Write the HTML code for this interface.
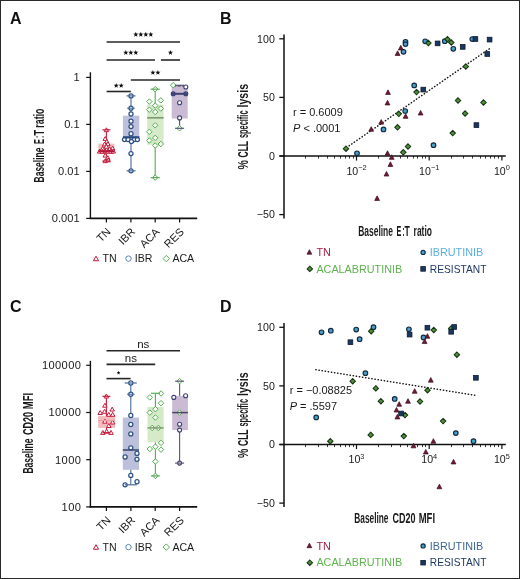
<!DOCTYPE html>
<html><head><meta charset="utf-8"><style>
html,body{margin:0;padding:0;background:#fff;}
svg{display:block;font-family:"Liberation Sans", sans-serif;will-change:transform;}
</style></head><body>
<svg width="520" height="579" viewBox="0 0 520 579">
<rect x="0" y="0" width="520" height="579" fill="#fff"/>
<text x="10" y="24" font-size="16" font-weight="bold" fill="#111">A</text><text x="220" y="24" font-size="16" font-weight="bold" fill="#111">B</text><text x="10" y="312.3" font-size="16" font-weight="bold" fill="#111">C</text><text x="220" y="312.3" font-size="16" font-weight="bold" fill="#111">D</text><g transform="translate(0,0)"><line x1="90.4" y1="72.3" x2="90.4" y2="219" stroke="#111" stroke-width="1.4"/><line x1="89.7" y1="218.4" x2="197.2" y2="218.4" stroke="#111" stroke-width="1.6"/><line x1="86.2" y1="77.4" x2="90.4" y2="77.4" stroke="#111" stroke-width="1.2"/><text x="79.6" y="81.30" font-size="11.1" text-anchor="end" fill="#1a1a1a" >1</text><line x1="86.2" y1="124.4" x2="90.4" y2="124.4" stroke="#111" stroke-width="1.2"/><text x="79.6" y="128.30" font-size="11.1" text-anchor="end" fill="#1a1a1a" >0.1</text><line x1="86.2" y1="171.4" x2="90.4" y2="171.4" stroke="#111" stroke-width="1.2"/><text x="79.6" y="175.30" font-size="11.1" text-anchor="end" fill="#1a1a1a" >0.01</text><line x1="86.2" y1="218.4" x2="90.4" y2="218.4" stroke="#111" stroke-width="1.2"/><text x="79.6" y="222.30" font-size="11.1" text-anchor="end" fill="#1a1a1a" >0.001</text><line x1="106.4" y1="218.4" x2="106.4" y2="222.4" stroke="#111" stroke-width="1.2"/><text x="0" y="0" font-size="11" text-anchor="end" fill="#1a1a1a" transform="translate(111.4,232.5) rotate(-45)">TN</text><line x1="130.9" y1="218.4" x2="130.9" y2="222.4" stroke="#111" stroke-width="1.2"/><text x="0" y="0" font-size="11" text-anchor="end" fill="#1a1a1a" transform="translate(135.9,232.5) rotate(-45)">IBR</text><line x1="155.2" y1="218.4" x2="155.2" y2="222.4" stroke="#111" stroke-width="1.2"/><text x="0" y="0" font-size="11" text-anchor="end" fill="#1a1a1a" transform="translate(160.2,232.5) rotate(-45)">ACA</text><line x1="179.6" y1="218.4" x2="179.6" y2="222.4" stroke="#111" stroke-width="1.2"/><text x="0" y="0" font-size="11" text-anchor="end" fill="#1a1a1a" transform="translate(184.6,232.5) rotate(-45)">RES</text><line x1="106.6" y1="42.0" x2="180" y2="42.0" stroke="#262626" stroke-width="1.6"/><polygon points="135.80,31.80 136.47,33.58 138.37,33.67 136.88,34.85 137.39,36.68 135.80,35.63 134.21,36.68 134.72,34.85 133.23,33.67 135.13,33.58" fill="#111"/><polygon points="140.80,31.80 141.47,33.58 143.37,33.67 141.88,34.85 142.39,36.68 140.80,35.63 139.21,36.68 139.72,34.85 138.23,33.67 140.13,33.58" fill="#111"/><polygon points="145.80,31.80 146.47,33.58 148.37,33.67 146.88,34.85 147.39,36.68 145.80,35.63 144.21,36.68 144.72,34.85 143.23,33.67 145.13,33.58" fill="#111"/><polygon points="150.80,31.80 151.47,33.58 153.37,33.67 151.88,34.85 152.39,36.68 150.80,35.63 149.21,36.68 149.72,34.85 148.23,33.67 150.13,33.58" fill="#111"/><line x1="106.6" y1="60.0" x2="155" y2="60.0" stroke="#262626" stroke-width="1.6"/><polygon points="125.80,50.00 126.47,51.78 128.37,51.87 126.88,53.05 127.39,54.88 125.80,53.83 124.21,54.88 124.72,53.05 123.23,51.87 125.13,51.78" fill="#111"/><polygon points="130.80,50.00 131.47,51.78 133.37,51.87 131.88,53.05 132.39,54.88 130.80,53.83 129.21,54.88 129.72,53.05 128.23,51.87 130.13,51.78" fill="#111"/><polygon points="135.80,50.00 136.47,51.78 138.37,51.87 136.88,53.05 137.39,54.88 135.80,53.83 134.21,54.88 134.72,53.05 133.23,51.87 135.13,51.78" fill="#111"/><line x1="160.9" y1="60.0" x2="180" y2="60.0" stroke="#262626" stroke-width="1.6"/><polygon points="170.45,50.00 171.12,51.78 173.02,51.87 171.53,53.05 172.04,54.88 170.45,53.83 168.86,54.88 169.37,53.05 167.88,51.87 169.78,51.78" fill="#111"/><line x1="130.8" y1="80.0" x2="180" y2="80.0" stroke="#262626" stroke-width="1.6"/><polygon points="152.90,69.90 153.57,71.68 155.47,71.77 153.98,72.95 154.49,74.78 152.90,73.73 151.31,74.78 151.82,72.95 150.33,71.77 152.23,71.68" fill="#111"/><polygon points="157.90,69.90 158.57,71.68 160.47,71.77 158.98,72.95 159.49,74.78 157.90,73.73 156.31,74.78 156.82,72.95 155.33,71.77 157.23,71.68" fill="#111"/><line x1="106.6" y1="91.5" x2="130.8" y2="91.5" stroke="#262626" stroke-width="1.6"/><polygon points="116.20,82.90 116.87,84.68 118.77,84.77 117.28,85.95 117.79,87.78 116.20,86.73 114.61,87.78 115.12,85.95 113.63,84.77 115.53,84.68" fill="#111"/><polygon points="121.20,82.90 121.87,84.68 123.77,84.77 122.28,85.95 122.79,87.78 121.20,86.73 119.61,87.78 120.12,85.95 118.63,84.77 120.53,84.68" fill="#111"/><rect x="98.4" y="143.7" width="16.0" height="10.200000000000017" fill="#f2bcbc"/><line x1="106.4" y1="129.8" x2="106.4" y2="143.7" stroke="#c41a3c" stroke-width="1.1"/><line x1="106.4" y1="153.9" x2="106.4" y2="161.0" stroke="#c41a3c" stroke-width="1.1"/><polygon points="106.40,127.80 104.20,131.65 108.60,131.65" fill="#fff" stroke="#c41a3c" stroke-width="1.0"/><polygon points="105.20,136.60 103.00,140.45 107.40,140.45" fill="#fff" stroke="#c41a3c" stroke-width="1.0"/><polygon points="106.80,139.40 104.60,143.25 109.00,143.25" fill="#fff" stroke="#c41a3c" stroke-width="1.0"/><polygon points="104.60,142.00 102.40,145.85 106.80,145.85" fill="#fff" stroke="#c41a3c" stroke-width="1.0"/><polygon points="108.00,141.80 105.80,145.65 110.20,145.65" fill="#fff" stroke="#c41a3c" stroke-width="1.0"/><polygon points="106.40,144.40 104.20,148.25 108.60,148.25" fill="#fff" stroke="#c41a3c" stroke-width="1.0"/><polygon points="102.60,146.40 100.40,150.25 104.80,150.25" fill="#fff" stroke="#c41a3c" stroke-width="1.0"/><polygon points="112.60,146.10 110.40,149.95 114.80,149.95" fill="#fff" stroke="#c41a3c" stroke-width="1.0"/><polygon points="109.60,146.80 107.40,150.65 111.80,150.65" fill="#fff" stroke="#c41a3c" stroke-width="1.0"/><polygon points="99.60,149.20 97.40,153.05 101.80,153.05" fill="#fff" stroke="#c41a3c" stroke-width="1.0"/><polygon points="102.40,149.40 100.20,153.25 104.60,153.25" fill="#fff" stroke="#c41a3c" stroke-width="1.0"/><polygon points="105.20,149.00 103.00,152.85 107.40,152.85" fill="#fff" stroke="#c41a3c" stroke-width="1.0"/><polygon points="108.00,149.20 105.80,153.05 110.20,153.05" fill="#fff" stroke="#c41a3c" stroke-width="1.0"/><polygon points="110.80,149.40 108.60,153.25 113.00,153.25" fill="#fff" stroke="#c41a3c" stroke-width="1.0"/><polygon points="113.30,149.20 111.10,153.05 115.50,153.05" fill="#fff" stroke="#c41a3c" stroke-width="1.0"/><polygon points="105.20,153.20 103.00,157.05 107.40,157.05" fill="#fff" stroke="#c41a3c" stroke-width="1.0"/><polygon points="107.80,155.70 105.60,159.55 110.00,159.55" fill="#fff" stroke="#c41a3c" stroke-width="1.0"/><polygon points="105.20,158.80 103.00,162.65 107.40,162.65" fill="#fff" stroke="#c41a3c" stroke-width="1.0"/><polygon points="108.20,158.00 106.00,161.85 110.40,161.85" fill="#fff" stroke="#c41a3c" stroke-width="1.0"/><line x1="102.4" y1="129.8" x2="110.4" y2="129.8" stroke="#c41a3c" stroke-width="1.2"/><line x1="102.4" y1="161.0" x2="110.4" y2="161.0" stroke="#c41a3c" stroke-width="1.2"/><line x1="98.4" y1="151.2" x2="114.4" y2="151.2" stroke="#b3193a" stroke-width="2"/><rect x="122.9" y="115.7" width="16.400000000000006" height="22.10000000000001" fill="#bcc0da"/><line x1="131.0" y1="95.9" x2="131.0" y2="115.7" stroke="#4a6c98" stroke-width="1.1"/><line x1="131.0" y1="137.8" x2="131.0" y2="170.8" stroke="#4a6c98" stroke-width="1.1"/><circle cx="131.00" cy="95.90" r="2.05" fill="#fff" stroke="#2f5286" stroke-width="1.25"/><circle cx="131.00" cy="108.20" r="2.05" fill="#fff" stroke="#2f5286" stroke-width="1.25"/><circle cx="131.00" cy="114.00" r="2.05" fill="#fff" stroke="#2f5286" stroke-width="1.25"/><circle cx="131.00" cy="121.20" r="2.05" fill="#fff" stroke="#2f5286" stroke-width="1.25"/><circle cx="131.00" cy="126.60" r="2.05" fill="#fff" stroke="#2f5286" stroke-width="1.25"/><circle cx="131.00" cy="133.70" r="2.05" fill="#fff" stroke="#2f5286" stroke-width="1.25"/><circle cx="124.50" cy="139.60" r="2.05" fill="#fff" stroke="#2f5286" stroke-width="1.25"/><circle cx="128.10" cy="139.60" r="2.05" fill="#fff" stroke="#2f5286" stroke-width="1.25"/><circle cx="134.40" cy="139.60" r="2.05" fill="#fff" stroke="#2f5286" stroke-width="1.25"/><circle cx="137.40" cy="139.60" r="2.05" fill="#fff" stroke="#2f5286" stroke-width="1.25"/><circle cx="131.40" cy="141.60" r="2.05" fill="#fff" stroke="#2f5286" stroke-width="1.25"/><circle cx="131.00" cy="153.60" r="2.05" fill="#fff" stroke="#2f5286" stroke-width="1.25"/><circle cx="131.00" cy="170.80" r="2.05" fill="#fff" stroke="#2f5286" stroke-width="1.25"/><line x1="126.5" y1="95.9" x2="135.5" y2="95.9" stroke="#4a6c98" stroke-width="1.2"/><line x1="126.5" y1="170.8" x2="135.5" y2="170.8" stroke="#4a6c98" stroke-width="1.2"/><line x1="122.9" y1="137.2" x2="139.3" y2="137.2" stroke="#274a82" stroke-width="2"/><line x1="127.2" y1="108.2" x2="134.8" y2="108.2" stroke="#4a6c98" stroke-width="1.1"/><rect x="147.2" y="104.6" width="16.400000000000006" height="40.20000000000002" fill="#d5eac8"/><line x1="155.2" y1="89.2" x2="155.2" y2="104.6" stroke="#55ad52" stroke-width="1.1"/><line x1="155.2" y1="144.8" x2="155.2" y2="177.6" stroke="#55ad52" stroke-width="1.1"/><polygon points="155.20,86.45 157.95,89.20 155.20,91.95 152.45,89.20" fill="#fff" stroke="#55ad52" stroke-width="1.0"/><polygon points="149.30,98.85 152.05,101.60 149.30,104.35 146.55,101.60" fill="#fff" stroke="#55ad52" stroke-width="1.0"/><polygon points="160.80,97.65 163.55,100.40 160.80,103.15 158.05,100.40" fill="#fff" stroke="#55ad52" stroke-width="1.0"/><polygon points="155.20,102.85 157.95,105.60 155.20,108.35 152.45,105.60" fill="#fff" stroke="#55ad52" stroke-width="1.0"/><polygon points="149.30,106.95 152.05,109.70 149.30,112.45 146.55,109.70" fill="#fff" stroke="#55ad52" stroke-width="1.0"/><polygon points="160.80,105.75 163.55,108.50 160.80,111.25 158.05,108.50" fill="#fff" stroke="#55ad52" stroke-width="1.0"/><polygon points="155.20,109.25 157.95,112.00 155.20,114.75 152.45,112.00" fill="#fff" stroke="#55ad52" stroke-width="1.0"/><polygon points="155.20,122.55 157.95,125.30 155.20,128.05 152.45,125.30" fill="#fff" stroke="#55ad52" stroke-width="1.0"/><polygon points="149.30,129.05 152.05,131.80 149.30,134.55 146.55,131.80" fill="#fff" stroke="#55ad52" stroke-width="1.0"/><polygon points="155.20,135.15 157.95,137.90 155.20,140.65 152.45,137.90" fill="#fff" stroke="#55ad52" stroke-width="1.0"/><polygon points="149.30,137.75 152.05,140.50 149.30,143.25 146.55,140.50" fill="#fff" stroke="#55ad52" stroke-width="1.0"/><polygon points="160.80,141.25 163.55,144.00 160.80,146.75 158.05,144.00" fill="#fff" stroke="#55ad52" stroke-width="1.0"/><polygon points="155.20,142.75 157.95,145.50 155.20,148.25 152.45,145.50" fill="#fff" stroke="#55ad52" stroke-width="1.0"/><polygon points="155.20,174.85 157.95,177.60 155.20,180.35 152.45,177.60" fill="#fff" stroke="#55ad52" stroke-width="1.0"/><line x1="150.7" y1="89.2" x2="159.7" y2="89.2" stroke="#55ad52" stroke-width="1.2"/><line x1="150.7" y1="177.6" x2="159.7" y2="177.6" stroke="#55ad52" stroke-width="1.2"/><line x1="147.2" y1="117.8" x2="163.6" y2="117.8" stroke="#7f9c70" stroke-width="1.7"/><rect x="171.7" y="85.3" width="16.0" height="33.2" fill="#cbbad3"/><line x1="179.6" y1="85.3" x2="179.6" y2="85.3" stroke="#5a5470" stroke-width="1.1"/><line x1="179.6" y1="118.5" x2="179.6" y2="128.3" stroke="#5a5470" stroke-width="1.1"/><line x1="173.2" y1="85.8" x2="185.8" y2="85.8" stroke="#3a3560" stroke-width="1.3" stroke-dasharray="3 1.5"/><polygon points="173.20,82.45 175.95,85.20 173.20,87.95 170.45,85.20" fill="#fff" stroke="#55ad52" stroke-width="1.0"/><circle cx="185.80" cy="87.00" r="2.0" fill="#fff" stroke="#3b4176" stroke-width="1.1"/><circle cx="179.60" cy="102.70" r="2.0" fill="#fff" stroke="#3b4176" stroke-width="1.1"/><circle cx="179.60" cy="117.90" r="2.0" fill="#fff" stroke="#3b4176" stroke-width="1.1"/><circle cx="173.20" cy="93.80" r="2.0" fill="#5a5f90" stroke="#3b4176" stroke-width="1.1"/><circle cx="185.80" cy="93.80" r="2.0" fill="#5a5f90" stroke="#3b4176" stroke-width="1.1"/><polygon points="179.60,125.55 182.35,128.30 179.60,131.05 176.85,128.30" fill="#fff" stroke="#55ad52" stroke-width="1.0"/><line x1="175.1" y1="85.3" x2="184.1" y2="85.3" stroke="#5a5470" stroke-width="1.2"/><line x1="175.1" y1="128.3" x2="184.1" y2="128.3" stroke="#5a5470" stroke-width="1.2"/><line x1="171.7" y1="93.8" x2="187.7" y2="93.8" stroke="#3b4176" stroke-width="2"/><polygon points="96.00,256.20 93.40,260.75 98.60,260.75" fill="#fff" stroke="#c41a3c" stroke-width="1.0"/><text x="102.6" y="262" font-size="10.6" text-anchor="start" fill="#1a1a1a" >TN</text><circle cx="128.50" cy="258.60" r="2.7" fill="#fff" stroke="#5a86c0" stroke-width="1.0"/><text x="134.8" y="262" font-size="10.6" text-anchor="start" fill="#1a1a1a" >IBR</text><polygon points="166.30,255.40 169.50,258.60 166.30,261.80 163.10,258.60" fill="#fff" stroke="#55ad52" stroke-width="1.0"/><text x="172.4" y="262" font-size="10.6" text-anchor="start" fill="#1a1a1a" >ACA</text></g><g transform="translate(44,0) rotate(-90)"><text x="-182.40" y="0" font-size="14.0" fill="#1a1a1a" stroke="#1a1a1a" stroke-width="0" font-weight="bold" textLength="34.80" lengthAdjust="spacingAndGlyphs">Baseline</text><text x="-144.00" y="0" font-size="14.0" fill="#1a1a1a" stroke="#1a1a1a" stroke-width="0" font-weight="bold" textLength="5.00" lengthAdjust="spacingAndGlyphs">E</text><text x="-137.90" y="0" font-size="14.0" fill="#1a1a1a" stroke="#1a1a1a" stroke-width="0" font-weight="bold" textLength="2.20" lengthAdjust="spacingAndGlyphs">:</text><text x="-135.60" y="0" font-size="14.0" fill="#1a1a1a" stroke="#1a1a1a" stroke-width="0" font-weight="bold" textLength="5.70" lengthAdjust="spacingAndGlyphs">T</text><text x="-127.70" y="0" font-size="14.0" fill="#1a1a1a" stroke="#1a1a1a" stroke-width="0" font-weight="bold" textLength="19.20" lengthAdjust="spacingAndGlyphs">ratio</text></g><g transform="translate(0,288.5)"><line x1="90.4" y1="72.3" x2="90.4" y2="219" stroke="#111" stroke-width="1.4"/><line x1="89.7" y1="218.4" x2="197.2" y2="218.4" stroke="#111" stroke-width="1.6"/><line x1="86.2" y1="76.8" x2="90.4" y2="76.8" stroke="#111" stroke-width="1.2"/><text x="81.3" y="80.70" font-size="11.1" text-anchor="end" fill="#1a1a1a" letter-spacing="0.4">100000</text><line x1="86.2" y1="124.0" x2="90.4" y2="124.0" stroke="#111" stroke-width="1.2"/><text x="81.3" y="127.90" font-size="11.1" text-anchor="end" fill="#1a1a1a" letter-spacing="0.4">10000</text><line x1="86.2" y1="171.2" x2="90.4" y2="171.2" stroke="#111" stroke-width="1.2"/><text x="81.3" y="175.10" font-size="11.1" text-anchor="end" fill="#1a1a1a" letter-spacing="0.4">1000</text><line x1="86.2" y1="218.40000000000003" x2="90.4" y2="218.40000000000003" stroke="#111" stroke-width="1.2"/><text x="81.3" y="222.30" font-size="11.1" text-anchor="end" fill="#1a1a1a" letter-spacing="0.4">100</text><line x1="106.4" y1="218.4" x2="106.4" y2="222.4" stroke="#111" stroke-width="1.2"/><text x="0" y="0" font-size="11" text-anchor="end" fill="#1a1a1a" transform="translate(111.4,232.5) rotate(-45)">TN</text><line x1="130.9" y1="218.4" x2="130.9" y2="222.4" stroke="#111" stroke-width="1.2"/><text x="0" y="0" font-size="11" text-anchor="end" fill="#1a1a1a" transform="translate(135.9,232.5) rotate(-45)">IBR</text><line x1="155.2" y1="218.4" x2="155.2" y2="222.4" stroke="#111" stroke-width="1.2"/><text x="0" y="0" font-size="11" text-anchor="end" fill="#1a1a1a" transform="translate(160.2,232.5) rotate(-45)">ACA</text><line x1="179.6" y1="218.4" x2="179.6" y2="222.4" stroke="#111" stroke-width="1.2"/><text x="0" y="0" font-size="11" text-anchor="end" fill="#1a1a1a" transform="translate(184.6,232.5) rotate(-45)">RES</text><line x1="106.5" y1="62.19999999999999" x2="180" y2="62.19999999999999" stroke="#262626" stroke-width="1.6"/><text x="143.25" y="59.89999999999998" font-size="11.5" text-anchor="middle" fill="#1a1a1a" >ns</text><line x1="106.5" y1="75.89999999999998" x2="155.2" y2="75.89999999999998" stroke="#262626" stroke-width="1.6"/><text x="130.85" y="73.60000000000002" font-size="11.5" text-anchor="middle" fill="#1a1a1a" >ns</text><line x1="106.5" y1="90.10000000000002" x2="130.6" y2="90.10000000000002" stroke="#262626" stroke-width="1.6"/><polygon points="118.55,82.30 119.04,83.62 120.45,83.68 119.35,84.56 119.73,85.92 118.55,85.14 117.37,85.92 117.75,84.56 116.65,83.68 118.06,83.62" fill="#111"/><rect x="98.2" y="127.39999999999998" width="17.0" height="12.0" fill="#f2bcbc"/><line x1="106.4" y1="107.80000000000001" x2="106.4" y2="127.39999999999998" stroke="#c41a3c" stroke-width="1.1"/><line x1="106.4" y1="139.39999999999998" x2="106.4" y2="144.2" stroke="#c41a3c" stroke-width="1.1"/><polygon points="106.30,105.55 104.05,109.49 108.55,109.49" fill="#fff" stroke="#c41a3c" stroke-width="1.0"/><polygon points="104.90,114.75 102.65,118.69 107.15,118.69" fill="#fff" stroke="#c41a3c" stroke-width="1.0"/><polygon points="112.20,118.65 109.95,122.59 114.45,122.59" fill="#fff" stroke="#c41a3c" stroke-width="1.0"/><polygon points="100.20,122.05 97.95,125.99 102.45,125.99" fill="#fff" stroke="#c41a3c" stroke-width="1.0"/><polygon points="104.50,120.85 102.25,124.79 106.75,124.79" fill="#fff" stroke="#c41a3c" stroke-width="1.0"/><polygon points="108.80,123.85 106.55,127.79 111.05,127.79" fill="#fff" stroke="#c41a3c" stroke-width="1.0"/><polygon points="112.70,123.85 110.45,127.79 114.95,127.79" fill="#fff" stroke="#c41a3c" stroke-width="1.0"/><polygon points="104.90,130.75 102.65,134.69 107.15,134.69" fill="#fff" stroke="#c41a3c" stroke-width="1.0"/><polygon points="112.70,131.55 110.45,135.49 114.95,135.49" fill="#fff" stroke="#c41a3c" stroke-width="1.0"/><polygon points="108.80,135.05 106.55,138.99 111.05,138.99" fill="#fff" stroke="#c41a3c" stroke-width="1.0"/><polygon points="102.80,141.95 100.55,145.89 105.05,145.89" fill="#fff" stroke="#c41a3c" stroke-width="1.0"/><polygon points="106.60,140.65 104.35,144.59 108.85,144.59" fill="#fff" stroke="#c41a3c" stroke-width="1.0"/><polygon points="111.00,141.95 108.75,145.89 113.25,145.89" fill="#fff" stroke="#c41a3c" stroke-width="1.0"/><line x1="102.4" y1="107.80000000000001" x2="110.4" y2="107.80000000000001" stroke="#c41a3c" stroke-width="1.2"/><line x1="102.4" y1="144.2" x2="110.4" y2="144.2" stroke="#c41a3c" stroke-width="1.2"/><line x1="98.2" y1="132.0" x2="115.2" y2="132.0" stroke="#e9a0a8" stroke-width="1.0"/><rect x="122.8" y="129.0" width="16.200000000000003" height="52.30000000000001" fill="#bcc0da"/><line x1="130.8" y1="94.5" x2="130.8" y2="129.0" stroke="#4a6c98" stroke-width="1.1"/><line x1="130.8" y1="181.3" x2="130.8" y2="196.3" stroke="#4a6c98" stroke-width="1.1"/><circle cx="130.80" cy="94.50" r="2.05" fill="#fff" stroke="#2f5286" stroke-width="1.25"/><circle cx="130.80" cy="105.70" r="2.05" fill="#fff" stroke="#2f5286" stroke-width="1.25"/><circle cx="130.80" cy="127.00" r="2.05" fill="#fff" stroke="#2f5286" stroke-width="1.25"/><circle cx="130.80" cy="136.00" r="2.05" fill="#fff" stroke="#2f5286" stroke-width="1.25"/><circle cx="130.80" cy="145.40" r="2.05" fill="#fff" stroke="#2f5286" stroke-width="1.25"/><circle cx="130.80" cy="159.30" r="2.05" fill="#fff" stroke="#2f5286" stroke-width="1.25"/><circle cx="125.10" cy="168.50" r="2.05" fill="#fff" stroke="#2f5286" stroke-width="1.25"/><circle cx="137.00" cy="164.90" r="2.05" fill="#fff" stroke="#2f5286" stroke-width="1.25"/><circle cx="137.00" cy="170.80" r="2.05" fill="#fff" stroke="#2f5286" stroke-width="1.25"/><circle cx="130.80" cy="186.90" r="2.05" fill="#fff" stroke="#2f5286" stroke-width="1.25"/><circle cx="125.10" cy="196.30" r="2.05" fill="#fff" stroke="#2f5286" stroke-width="1.25"/><circle cx="137.00" cy="193.20" r="2.05" fill="#fff" stroke="#2f5286" stroke-width="1.25"/><line x1="124.80000000000001" y1="94.5" x2="136.8" y2="94.5" stroke="#4a6c98" stroke-width="1.2"/><line x1="124.80000000000001" y1="196.3" x2="136.8" y2="196.3" stroke="#4a6c98" stroke-width="1.2"/><line x1="122.8" y1="161.5" x2="139.0" y2="161.5" stroke="#34496e" stroke-width="1.5"/><line x1="127.0" y1="105.69999999999999" x2="134.6" y2="105.69999999999999" stroke="#4a6c98" stroke-width="1.1"/><rect x="147.5" y="118.5" width="16.19999999999999" height="35.19999999999999" fill="#d5eac8"/><line x1="155.4" y1="104.80000000000001" x2="155.4" y2="118.5" stroke="#55ad52" stroke-width="1.1"/><line x1="155.4" y1="153.7" x2="155.4" y2="187.39999999999998" stroke="#55ad52" stroke-width="1.1"/><polygon points="149.80,106.15 152.55,108.90 149.80,111.65 147.05,108.90" fill="#fff" stroke="#55ad52" stroke-width="1.0"/><polygon points="161.00,102.25 163.75,105.00 161.00,107.75 158.25,105.00" fill="#fff" stroke="#55ad52" stroke-width="1.0"/><polygon points="161.00,111.95 163.75,114.70 161.00,117.45 158.25,114.70" fill="#fff" stroke="#55ad52" stroke-width="1.0"/><polygon points="155.40,117.95 158.15,120.70 155.40,123.45 152.65,120.70" fill="#fff" stroke="#55ad52" stroke-width="1.0"/><polygon points="149.80,121.35 152.55,124.10 149.80,126.85 147.05,124.10" fill="#fff" stroke="#55ad52" stroke-width="1.0"/><polygon points="155.40,126.25 158.15,129.00 155.40,131.75 152.65,129.00" fill="#fff" stroke="#55ad52" stroke-width="1.0"/><polygon points="152.20,136.65 154.95,139.40 152.20,142.15 149.45,139.40" fill="#fff" stroke="#55ad52" stroke-width="1.0"/><polygon points="158.40,136.65 161.15,139.40 158.40,142.15 155.65,139.40" fill="#fff" stroke="#55ad52" stroke-width="1.0"/><polygon points="161.00,151.65 163.75,154.40 161.00,157.15 158.25,154.40" fill="#fff" stroke="#55ad52" stroke-width="1.0"/><polygon points="155.40,155.45 158.15,158.20 155.40,160.95 152.65,158.20" fill="#fff" stroke="#55ad52" stroke-width="1.0"/><polygon points="149.80,157.75 152.55,160.50 149.80,163.25 147.05,160.50" fill="#fff" stroke="#55ad52" stroke-width="1.0"/><polygon points="161.00,158.35 163.75,161.10 161.00,163.85 158.25,161.10" fill="#fff" stroke="#55ad52" stroke-width="1.0"/><polygon points="155.40,170.25 158.15,173.00 155.40,175.75 152.65,173.00" fill="#fff" stroke="#55ad52" stroke-width="1.0"/><polygon points="155.40,184.65 158.15,187.40 155.40,190.15 152.65,187.40" fill="#fff" stroke="#55ad52" stroke-width="1.0"/><line x1="150.9" y1="104.80000000000001" x2="159.9" y2="104.80000000000001" stroke="#55ad52" stroke-width="1.2"/><line x1="150.9" y1="187.39999999999998" x2="159.9" y2="187.39999999999998" stroke="#55ad52" stroke-width="1.2"/><line x1="147.5" y1="139.39999999999998" x2="163.7" y2="139.39999999999998" stroke="#809f70" stroke-width="1.5"/><rect x="172.2" y="107.30000000000001" width="15.700000000000017" height="34.30000000000001" fill="#cbbad3"/><line x1="179.6" y1="92.69999999999999" x2="179.6" y2="107.30000000000001" stroke="#5a5470" stroke-width="1.1"/><line x1="179.6" y1="141.60000000000002" x2="179.6" y2="174.60000000000002" stroke="#5a5470" stroke-width="1.1"/><polygon points="179.60,89.95 182.35,92.70 179.60,95.45 176.85,92.70" fill="#fff" stroke="#55ad52" stroke-width="1.0"/><circle cx="173.80" cy="108.90" r="2.0" fill="#fff" stroke="#3b4176" stroke-width="1.1"/><circle cx="185.60" cy="107.30" r="2.0" fill="#fff" stroke="#3b4176" stroke-width="1.1"/><circle cx="179.60" cy="135.80" r="2.0" fill="#fff" stroke="#3b4176" stroke-width="1.1"/><circle cx="179.60" cy="141.60" r="2.0" fill="#fff" stroke="#3b4176" stroke-width="1.1"/><circle cx="179.60" cy="174.60" r="2.0" fill="#fff" stroke="#3b4176" stroke-width="1.1"/><polygon points="179.60,121.35 182.35,124.10 179.60,126.85 176.85,124.10" fill="#fff" stroke="#55ad52" stroke-width="1.0"/><line x1="175.1" y1="92.69999999999999" x2="184.1" y2="92.69999999999999" stroke="#5a5470" stroke-width="1.2"/><line x1="175.1" y1="174.60000000000002" x2="184.1" y2="174.60000000000002" stroke="#5a5470" stroke-width="1.2"/><line x1="172.2" y1="124.10000000000002" x2="187.9" y2="124.10000000000002" stroke="#4a4560" stroke-width="1.5"/><polygon points="96.00,256.20 93.40,260.75 98.60,260.75" fill="#fff" stroke="#c41a3c" stroke-width="1.0"/><text x="102.6" y="262" font-size="10.6" text-anchor="start" fill="#1a1a1a" >TN</text><circle cx="128.50" cy="258.60" r="2.7" fill="#fff" stroke="#5a86c0" stroke-width="1.0"/><text x="134.8" y="262" font-size="10.6" text-anchor="start" fill="#1a1a1a" >IBR</text><polygon points="166.30,255.40 169.50,258.60 166.30,261.80 163.10,258.60" fill="#fff" stroke="#55ad52" stroke-width="1.0"/><text x="172.4" y="262" font-size="10.6" text-anchor="start" fill="#1a1a1a" >ACA</text></g><g transform="translate(32.8,0) rotate(-90)"><text x="-473.60" y="0" font-size="14.0" fill="#1a1a1a" stroke="#1a1a1a" stroke-width="0" font-weight="bold" textLength="35.20" lengthAdjust="spacingAndGlyphs">Baseline</text><text x="-435.10" y="0" font-size="14.0" fill="#1a1a1a" stroke="#1a1a1a" stroke-width="0" font-weight="bold" textLength="23.20" lengthAdjust="spacingAndGlyphs">CD20</text><text x="-409.30" y="0" font-size="14.0" fill="#1a1a1a" stroke="#1a1a1a" stroke-width="0" font-weight="bold" textLength="16.40" lengthAdjust="spacingAndGlyphs">MFI</text></g><line x1="279.5" y1="156" x2="505.8" y2="156" stroke="#111" stroke-width="1.6"/><line x1="305.50" y1="156" x2="305.50" y2="158.6" stroke="#111" stroke-width="0.85"/><line x1="318.50" y1="156" x2="318.50" y2="158.6" stroke="#111" stroke-width="0.85"/><line x1="327.50" y1="156" x2="327.50" y2="158.6" stroke="#111" stroke-width="0.85"/><line x1="334.50" y1="156" x2="334.50" y2="158.6" stroke="#111" stroke-width="0.85"/><line x1="340.50" y1="156" x2="340.50" y2="158.6" stroke="#111" stroke-width="0.85"/><line x1="345.50" y1="156" x2="345.50" y2="158.6" stroke="#111" stroke-width="0.85"/><line x1="349.50" y1="156" x2="349.50" y2="158.6" stroke="#111" stroke-width="0.85"/><line x1="353.50" y1="156" x2="353.50" y2="158.6" stroke="#111" stroke-width="0.85"/><line x1="356.50" y1="156" x2="356.50" y2="160.6" stroke="#111" stroke-width="1.2"/><text x="356.50" y="174.6" font-size="10.6" text-anchor="middle" fill="#1a1a1a">10<tspan font-size="7.4" dy="-4.6">−2</tspan></text><line x1="378.50" y1="156" x2="378.50" y2="158.6" stroke="#111" stroke-width="0.85"/><line x1="391.50" y1="156" x2="391.50" y2="158.6" stroke="#111" stroke-width="0.85"/><line x1="400.50" y1="156" x2="400.50" y2="158.6" stroke="#111" stroke-width="0.85"/><line x1="407.50" y1="156" x2="407.50" y2="158.6" stroke="#111" stroke-width="0.85"/><line x1="413.50" y1="156" x2="413.50" y2="158.6" stroke="#111" stroke-width="0.85"/><line x1="417.50" y1="156" x2="417.50" y2="158.6" stroke="#111" stroke-width="0.85"/><line x1="422.50" y1="156" x2="422.50" y2="158.6" stroke="#111" stroke-width="0.85"/><line x1="425.50" y1="156" x2="425.50" y2="158.6" stroke="#111" stroke-width="0.85"/><line x1="429.20" y1="156" x2="429.20" y2="160.6" stroke="#111" stroke-width="1.2"/><text x="429.20" y="174.6" font-size="10.6" text-anchor="middle" fill="#1a1a1a">10<tspan font-size="7.4" dy="-4.6">−1</tspan></text><line x1="451.50" y1="156" x2="451.50" y2="158.6" stroke="#111" stroke-width="0.85"/><line x1="463.50" y1="156" x2="463.50" y2="158.6" stroke="#111" stroke-width="0.85"/><line x1="472.50" y1="156" x2="472.50" y2="158.6" stroke="#111" stroke-width="0.85"/><line x1="480.50" y1="156" x2="480.50" y2="158.6" stroke="#111" stroke-width="0.85"/><line x1="485.50" y1="156" x2="485.50" y2="158.6" stroke="#111" stroke-width="0.85"/><line x1="490.50" y1="156" x2="490.50" y2="158.6" stroke="#111" stroke-width="0.85"/><line x1="494.50" y1="156" x2="494.50" y2="158.6" stroke="#111" stroke-width="0.85"/><line x1="498.50" y1="156" x2="498.50" y2="158.6" stroke="#111" stroke-width="0.85"/><line x1="501.90" y1="156" x2="501.90" y2="160.6" stroke="#111" stroke-width="1.2"/><text x="501.90" y="174.6" font-size="10.6" text-anchor="middle" fill="#1a1a1a">10<tspan font-size="7.4" dy="-4.6">0</tspan></text><line x1="284" y1="34.6" x2="284" y2="218.6" stroke="#111" stroke-width="1.5"/><line x1="279.3" y1="38.80" x2="284" y2="38.80" stroke="#111" stroke-width="1.3"/><text x="274.8" y="42.60" font-size="10.6" text-anchor="end" fill="#1a1a1a" >100</text><line x1="279.3" y1="97.40" x2="284" y2="97.40" stroke="#111" stroke-width="1.3"/><text x="274.8" y="101.20" font-size="10.6" text-anchor="end" fill="#1a1a1a" >50</text><line x1="279.3" y1="156.00" x2="284" y2="156.00" stroke="#111" stroke-width="1.3"/><text x="274.8" y="159.80" font-size="10.6" text-anchor="end" fill="#1a1a1a" >0</text><line x1="279.3" y1="214.60" x2="284" y2="214.60" stroke="#111" stroke-width="1.3"/><text x="274.8" y="218.40" font-size="10.6" text-anchor="end" fill="#1a1a1a" >−50</text><g transform="translate(247.6,0) rotate(-90)"><text x="-169.60" y="0" font-size="14.0" fill="#1a1a1a" stroke="#1a1a1a" stroke-width="0" font-weight="bold" textLength="9.40" lengthAdjust="spacingAndGlyphs">%</text><text x="-157.50" y="0" font-size="14.0" fill="#1a1a1a" stroke="#1a1a1a" stroke-width="0" font-weight="bold" textLength="16.50" lengthAdjust="spacingAndGlyphs">CLL</text><text x="-138.10" y="0" font-size="14.0" fill="#1a1a1a" stroke="#1a1a1a" stroke-width="0" font-weight="bold" textLength="27.60" lengthAdjust="spacingAndGlyphs">specific</text><text x="-107.50" y="0" font-size="14.0" fill="#1a1a1a" stroke="#1a1a1a" stroke-width="0" font-weight="bold" textLength="23.60" lengthAdjust="spacingAndGlyphs">lysis</text></g><text x="358.20" y="235.6" font-size="14.0" fill="#1a1a1a" stroke="#1a1a1a" stroke-width="0" font-weight="bold" textLength="34.80" lengthAdjust="spacingAndGlyphs">Baseline</text><text x="396.60" y="235.6" font-size="14.0" fill="#1a1a1a" stroke="#1a1a1a" stroke-width="0" font-weight="bold" textLength="4.80" lengthAdjust="spacingAndGlyphs">E</text><text x="402.50" y="235.6" font-size="14.0" fill="#1a1a1a" stroke="#1a1a1a" stroke-width="0" font-weight="bold" textLength="2.10" lengthAdjust="spacingAndGlyphs">:</text><text x="404.60" y="235.6" font-size="14.0" fill="#1a1a1a" stroke="#1a1a1a" stroke-width="0" font-weight="bold" textLength="5.30" lengthAdjust="spacingAndGlyphs">T</text><text x="413.60" y="235.6" font-size="14.0" fill="#1a1a1a" stroke="#1a1a1a" stroke-width="0" font-weight="bold" textLength="18.30" lengthAdjust="spacingAndGlyphs">ratio</text><text x="293" y="115.8" font-size="11" text-anchor="start" fill="#1a1a1a" >r = 0.6009</text><text x="293" y="132.3" font-size="11" fill="#1a1a1a"><tspan font-style="italic">P</tspan> &lt; .0001</text><line x1="349.1" y1="145.8" x2="489.6" y2="48.6" stroke="#1a1a1a" stroke-width="1.5" stroke-linecap="round" stroke-dasharray="0.35 2.8"/><circle cx="405.50" cy="41.80" r="2.3" fill="#4a9fc8" stroke="#122a40" stroke-width="1.15"/><circle cx="405.50" cy="44.10" r="2.3" fill="#4a9fc8" stroke="#122a40" stroke-width="1.15"/><circle cx="403.50" cy="51.80" r="2.3" fill="#4a9fc8" stroke="#122a40" stroke-width="1.15"/><circle cx="425.20" cy="41.30" r="2.3" fill="#4a9fc8" stroke="#122a40" stroke-width="1.15"/><circle cx="444.80" cy="41.20" r="2.3" fill="#4a9fc8" stroke="#122a40" stroke-width="1.15"/><circle cx="453.30" cy="48.80" r="2.3" fill="#4a9fc8" stroke="#122a40" stroke-width="1.15"/><circle cx="472.30" cy="39.00" r="2.3" fill="#4a9fc8" stroke="#122a40" stroke-width="1.15"/><circle cx="414.20" cy="85.40" r="2.3" fill="#4a9fc8" stroke="#122a40" stroke-width="1.15"/><circle cx="405.20" cy="111.00" r="2.3" fill="#4a9fc8" stroke="#122a40" stroke-width="1.15"/><circle cx="383.50" cy="129.40" r="2.3" fill="#4a9fc8" stroke="#122a40" stroke-width="1.15"/><circle cx="433.50" cy="145.20" r="2.3" fill="#4a9fc8" stroke="#122a40" stroke-width="1.15"/><circle cx="357.00" cy="153.30" r="2.3" fill="#4a9fc8" stroke="#122a40" stroke-width="1.15"/><polygon points="428.40,40.30 431.10,43.00 428.40,45.70 425.70,43.00" fill="#4f903c" stroke="#163312" stroke-width="1.05"/><polygon points="447.50,36.50 450.20,39.20 447.50,41.90 444.80,39.20" fill="#4f903c" stroke="#163312" stroke-width="1.05"/><polygon points="451.30,39.80 454.00,42.50 451.30,45.20 448.60,42.50" fill="#4f903c" stroke="#163312" stroke-width="1.05"/><polygon points="465.80,63.80 468.50,66.50 465.80,69.20 463.10,66.50" fill="#4f903c" stroke="#163312" stroke-width="1.05"/><polygon points="416.50,89.40 419.20,92.10 416.50,94.80 413.80,92.10" fill="#4f903c" stroke="#163312" stroke-width="1.05"/><polygon points="398.80,111.10 401.50,113.80 398.80,116.50 396.10,113.80" fill="#4f903c" stroke="#163312" stroke-width="1.05"/><polygon points="397.50,124.60 400.20,127.30 397.50,130.00 394.80,127.30" fill="#4f903c" stroke="#163312" stroke-width="1.05"/><polygon points="452.70,130.40 455.40,133.10 452.70,135.80 450.00,133.10" fill="#4f903c" stroke="#163312" stroke-width="1.05"/><polygon points="458.00,97.80 460.70,100.50 458.00,103.20 455.30,100.50" fill="#4f903c" stroke="#163312" stroke-width="1.05"/><polygon points="483.50,99.80 486.20,102.50 483.50,105.20 480.80,102.50" fill="#4f903c" stroke="#163312" stroke-width="1.05"/><polygon points="465.10,110.80 467.80,113.50 465.10,116.20 462.40,113.50" fill="#4f903c" stroke="#163312" stroke-width="1.05"/><polygon points="408.00,143.80 410.70,146.50 408.00,149.20 405.30,146.50" fill="#4f903c" stroke="#163312" stroke-width="1.05"/><polygon points="403.30,149.60 406.00,152.30 403.30,155.00 400.60,152.30" fill="#4f903c" stroke="#163312" stroke-width="1.05"/><polygon points="346.00,146.00 348.70,148.70 346.00,151.40 343.30,148.70" fill="#4f903c" stroke="#163312" stroke-width="1.05"/><rect x="420.95" y="87.25" width="4.7" height="4.7" fill="#1c375f" stroke="#0c1a30" stroke-width="0.8"/><rect x="435.25" y="41.05" width="4.7" height="4.7" fill="#1c375f" stroke="#0c1a30" stroke-width="0.8"/><rect x="460.35" y="44.55" width="4.7" height="4.7" fill="#1c375f" stroke="#0c1a30" stroke-width="0.8"/><rect x="473.05" y="36.65" width="4.7" height="4.7" fill="#1c375f" stroke="#0c1a30" stroke-width="0.8"/><rect x="487.25" y="37.25" width="4.7" height="4.7" fill="#1c375f" stroke="#0c1a30" stroke-width="0.8"/><rect x="484.95" y="51.65" width="4.7" height="4.7" fill="#1c375f" stroke="#0c1a30" stroke-width="0.8"/><rect x="474.05" y="122.75" width="4.7" height="4.7" fill="#1c375f" stroke="#0c1a30" stroke-width="0.8"/><polygon points="400.80,45.35 398.38,49.94 403.22,49.94" fill="#6e1a33" stroke="#3d0b1c" stroke-width="0.7"/><polygon points="397.60,50.85 395.18,55.44 400.02,55.44" fill="#6e1a33" stroke="#3d0b1c" stroke-width="0.7"/><polygon points="388.00,89.85 385.58,94.44 390.42,94.44" fill="#6e1a33" stroke="#3d0b1c" stroke-width="0.7"/><polygon points="387.50,100.35 385.08,104.94 389.92,104.94" fill="#6e1a33" stroke="#3d0b1c" stroke-width="0.7"/><polygon points="405.60,113.75 403.18,118.34 408.02,118.34" fill="#6e1a33" stroke="#3d0b1c" stroke-width="0.7"/><polygon points="420.60,110.45 418.18,115.04 423.02,115.04" fill="#6e1a33" stroke="#3d0b1c" stroke-width="0.7"/><polygon points="381.20,119.55 378.78,124.14 383.62,124.14" fill="#6e1a33" stroke="#3d0b1c" stroke-width="0.7"/><polygon points="371.20,126.65 368.78,131.24 373.62,131.24" fill="#6e1a33" stroke="#3d0b1c" stroke-width="0.7"/><polygon points="387.50,150.75 385.08,155.34 389.92,155.34" fill="#6e1a33" stroke="#3d0b1c" stroke-width="0.7"/><polygon points="391.70,154.75 389.28,159.34 394.12,159.34" fill="#6e1a33" stroke="#3d0b1c" stroke-width="0.7"/><polygon points="390.40,161.85 387.98,166.44 392.82,166.44" fill="#6e1a33" stroke="#3d0b1c" stroke-width="0.7"/><polygon points="386.50,171.45 384.08,176.04 388.92,176.04" fill="#6e1a33" stroke="#3d0b1c" stroke-width="0.7"/><polygon points="377.10,195.85 374.68,200.44 379.52,200.44" fill="#6e1a33" stroke="#3d0b1c" stroke-width="0.7"/><polygon points="309.40,249.70 307.02,254.20 311.77,254.20" fill="#6e1a33" stroke="#3d0b1c" stroke-width="0.7"/><text x="316.4" y="256.1" font-size="10.8" text-anchor="start" fill="#a32049" >TN</text><circle cx="423.10" cy="252.40" r="2.1" fill="#3fa3c8" stroke="#122a40" stroke-width="1.15"/><text x="429.8" y="256.1" font-size="10.8" text-anchor="start" fill="#58b1de" >IBRUTINIB</text><polygon points="309.80,266.20 312.50,268.90 309.80,271.60 307.10,268.90" fill="#4f903c" stroke="#163312" stroke-width="1.05"/><text x="316.4" y="272.59999999999997" font-size="10.8" text-anchor="start" fill="#5db34c" >ACALABRUTINIB</text><rect x="420.80" y="266.60" width="4.6" height="4.6" fill="#1c375f" stroke="#0c1a30" stroke-width="0.8"/><text x="429.8" y="272.59999999999997" font-size="10.8" text-anchor="start" fill="#1e3a62" textLength="56.6" lengthAdjust="spacingAndGlyphs">RESISTANT</text><g transform="translate(0,288.5)"><line x1="279.5" y1="156" x2="505.8" y2="156" stroke="#111" stroke-width="1.6"/><line x1="305.50" y1="156" x2="305.50" y2="158.6" stroke="#111" stroke-width="0.85"/><line x1="318.50" y1="156" x2="318.50" y2="158.6" stroke="#111" stroke-width="0.85"/><line x1="327.50" y1="156" x2="327.50" y2="158.6" stroke="#111" stroke-width="0.85"/><line x1="334.50" y1="156" x2="334.50" y2="158.6" stroke="#111" stroke-width="0.85"/><line x1="340.50" y1="156" x2="340.50" y2="158.6" stroke="#111" stroke-width="0.85"/><line x1="345.50" y1="156" x2="345.50" y2="158.6" stroke="#111" stroke-width="0.85"/><line x1="349.50" y1="156" x2="349.50" y2="158.6" stroke="#111" stroke-width="0.85"/><line x1="353.50" y1="156" x2="353.50" y2="158.6" stroke="#111" stroke-width="0.85"/><line x1="356.50" y1="156" x2="356.50" y2="160.6" stroke="#111" stroke-width="1.2"/><text x="356.50" y="174.6" font-size="10.6" text-anchor="middle" fill="#1a1a1a">10<tspan font-size="7.4" dy="-4.6">3</tspan></text><line x1="378.50" y1="156" x2="378.50" y2="158.6" stroke="#111" stroke-width="0.85"/><line x1="391.50" y1="156" x2="391.50" y2="158.6" stroke="#111" stroke-width="0.85"/><line x1="400.50" y1="156" x2="400.50" y2="158.6" stroke="#111" stroke-width="0.85"/><line x1="407.50" y1="156" x2="407.50" y2="158.6" stroke="#111" stroke-width="0.85"/><line x1="413.50" y1="156" x2="413.50" y2="158.6" stroke="#111" stroke-width="0.85"/><line x1="417.50" y1="156" x2="417.50" y2="158.6" stroke="#111" stroke-width="0.85"/><line x1="422.50" y1="156" x2="422.50" y2="158.6" stroke="#111" stroke-width="0.85"/><line x1="425.50" y1="156" x2="425.50" y2="158.6" stroke="#111" stroke-width="0.85"/><line x1="429.20" y1="156" x2="429.20" y2="160.6" stroke="#111" stroke-width="1.2"/><text x="429.20" y="174.6" font-size="10.6" text-anchor="middle" fill="#1a1a1a">10<tspan font-size="7.4" dy="-4.6">4</tspan></text><line x1="451.50" y1="156" x2="451.50" y2="158.6" stroke="#111" stroke-width="0.85"/><line x1="463.50" y1="156" x2="463.50" y2="158.6" stroke="#111" stroke-width="0.85"/><line x1="472.50" y1="156" x2="472.50" y2="158.6" stroke="#111" stroke-width="0.85"/><line x1="480.50" y1="156" x2="480.50" y2="158.6" stroke="#111" stroke-width="0.85"/><line x1="485.50" y1="156" x2="485.50" y2="158.6" stroke="#111" stroke-width="0.85"/><line x1="490.50" y1="156" x2="490.50" y2="158.6" stroke="#111" stroke-width="0.85"/><line x1="494.50" y1="156" x2="494.50" y2="158.6" stroke="#111" stroke-width="0.85"/><line x1="498.50" y1="156" x2="498.50" y2="158.6" stroke="#111" stroke-width="0.85"/><line x1="501.90" y1="156" x2="501.90" y2="160.6" stroke="#111" stroke-width="1.2"/><text x="501.90" y="174.6" font-size="10.6" text-anchor="middle" fill="#1a1a1a">10<tspan font-size="7.4" dy="-4.6">5</tspan></text><line x1="284" y1="34.6" x2="284" y2="218.6" stroke="#111" stroke-width="1.5"/><line x1="279.3" y1="38.80" x2="284" y2="38.80" stroke="#111" stroke-width="1.3"/><text x="274.8" y="42.60" font-size="10.6" text-anchor="end" fill="#1a1a1a" >100</text><line x1="279.3" y1="97.40" x2="284" y2="97.40" stroke="#111" stroke-width="1.3"/><text x="274.8" y="101.20" font-size="10.6" text-anchor="end" fill="#1a1a1a" >50</text><line x1="279.3" y1="156.00" x2="284" y2="156.00" stroke="#111" stroke-width="1.3"/><text x="274.8" y="159.80" font-size="10.6" text-anchor="end" fill="#1a1a1a" >0</text><line x1="279.3" y1="214.60" x2="284" y2="214.60" stroke="#111" stroke-width="1.3"/><text x="274.8" y="218.40" font-size="10.6" text-anchor="end" fill="#1a1a1a" >−50</text><g transform="translate(247.6,0) rotate(-90)"><text x="-169.60" y="0" font-size="14.0" fill="#1a1a1a" stroke="#1a1a1a" stroke-width="0" font-weight="bold" textLength="9.40" lengthAdjust="spacingAndGlyphs">%</text><text x="-157.50" y="0" font-size="14.0" fill="#1a1a1a" stroke="#1a1a1a" stroke-width="0" font-weight="bold" textLength="16.50" lengthAdjust="spacingAndGlyphs">CLL</text><text x="-138.10" y="0" font-size="14.0" fill="#1a1a1a" stroke="#1a1a1a" stroke-width="0" font-weight="bold" textLength="27.60" lengthAdjust="spacingAndGlyphs">specific</text><text x="-107.50" y="0" font-size="14.0" fill="#1a1a1a" stroke="#1a1a1a" stroke-width="0" font-weight="bold" textLength="23.60" lengthAdjust="spacingAndGlyphs">lysis</text></g><text x="354.30" y="234.6" font-size="14.0" fill="#1a1a1a" stroke="#1a1a1a" stroke-width="0" font-weight="bold" textLength="34.20" lengthAdjust="spacingAndGlyphs">Baseline</text><text x="392.40" y="234.6" font-size="14.0" fill="#1a1a1a" stroke="#1a1a1a" stroke-width="0" font-weight="bold" textLength="23.00" lengthAdjust="spacingAndGlyphs">CD20</text><text x="418.70" y="234.6" font-size="14.0" fill="#1a1a1a" stroke="#1a1a1a" stroke-width="0" font-weight="bold" textLength="16.40" lengthAdjust="spacingAndGlyphs">MFI</text></g><text x="289.7" y="394.2" font-size="11" text-anchor="start" fill="#1a1a1a" >r = −0.08825</text><text x="289.7" y="410.3" font-size="11" fill="#1a1a1a"><tspan font-style="italic">P</tspan> = .5597</text><line x1="315.8" y1="369.7" x2="475.4" y2="395.3" stroke="#1a1a1a" stroke-width="1.5" stroke-linecap="round" stroke-dasharray="0.35 2.8"/><circle cx="321.50" cy="332.30" r="2.3" fill="#4a9fc8" stroke="#122a40" stroke-width="1.15"/><circle cx="330.80" cy="330.70" r="2.3" fill="#4a9fc8" stroke="#122a40" stroke-width="1.15"/><circle cx="356.20" cy="329.50" r="2.3" fill="#4a9fc8" stroke="#122a40" stroke-width="1.15"/><circle cx="373.50" cy="327.20" r="2.3" fill="#4a9fc8" stroke="#122a40" stroke-width="1.15"/><circle cx="359.60" cy="339.20" r="2.3" fill="#4a9fc8" stroke="#122a40" stroke-width="1.15"/><circle cx="408.90" cy="329.30" r="2.3" fill="#4a9fc8" stroke="#122a40" stroke-width="1.15"/><circle cx="423.50" cy="337.40" r="2.3" fill="#4a9fc8" stroke="#122a40" stroke-width="1.15"/><circle cx="365.40" cy="373.20" r="2.3" fill="#4a9fc8" stroke="#122a40" stroke-width="1.15"/><circle cx="316.20" cy="417.40" r="2.3" fill="#4a9fc8" stroke="#122a40" stroke-width="1.15"/><circle cx="394.70" cy="398.90" r="2.3" fill="#4a9fc8" stroke="#122a40" stroke-width="1.15"/><circle cx="455.80" cy="433.10" r="2.3" fill="#4a9fc8" stroke="#122a40" stroke-width="1.15"/><circle cx="473.50" cy="441.20" r="2.3" fill="#4a9fc8" stroke="#122a40" stroke-width="1.15"/><polygon points="371.20,328.50 373.90,331.20 371.20,333.90 368.50,331.20" fill="#4f903c" stroke="#163312" stroke-width="1.05"/><polygon points="433.80,327.30 436.50,330.00 433.80,332.70 431.10,330.00" fill="#4f903c" stroke="#163312" stroke-width="1.05"/><polygon points="451.20,325.70 453.90,328.40 451.20,331.10 448.50,328.40" fill="#4f903c" stroke="#163312" stroke-width="1.05"/><polygon points="456.90,352.00 459.60,354.70 456.90,357.40 454.20,354.70" fill="#4f903c" stroke="#163312" stroke-width="1.05"/><polygon points="352.70,378.50 355.40,381.20 352.70,383.90 350.00,381.20" fill="#4f903c" stroke="#163312" stroke-width="1.05"/><polygon points="375.80,385.70 378.50,388.40 375.80,391.10 373.10,388.40" fill="#4f903c" stroke="#163312" stroke-width="1.05"/><polygon points="380.90,398.50 383.60,401.20 380.90,403.90 378.20,401.20" fill="#4f903c" stroke="#163312" stroke-width="1.05"/><polygon points="370.70,432.20 373.40,434.90 370.70,437.60 368.00,434.90" fill="#4f903c" stroke="#163312" stroke-width="1.05"/><polygon points="330.30,438.50 333.00,441.20 330.30,443.90 327.60,441.20" fill="#4f903c" stroke="#163312" stroke-width="1.05"/><polygon points="427.50,387.50 430.20,390.20 427.50,392.90 424.80,390.20" fill="#4f903c" stroke="#163312" stroke-width="1.05"/><polygon points="420.00,398.80 422.70,401.50 420.00,404.20 417.30,401.50" fill="#4f903c" stroke="#163312" stroke-width="1.05"/><polygon points="405.00,412.40 407.70,415.10 405.00,417.80 402.30,415.10" fill="#4f903c" stroke="#163312" stroke-width="1.05"/><polygon points="443.10,418.40 445.80,421.10 443.10,423.80 440.40,421.10" fill="#4f903c" stroke="#163312" stroke-width="1.05"/><polygon points="403.80,433.40 406.50,436.10 403.80,438.80 401.10,436.10" fill="#4f903c" stroke="#163312" stroke-width="1.05"/><rect x="348.05" y="339.85" width="4.7" height="4.7" fill="#1c375f" stroke="#0c1a30" stroke-width="0.8"/><rect x="407.25" y="332.25" width="4.7" height="4.7" fill="#1c375f" stroke="#0c1a30" stroke-width="0.8"/><rect x="425.05" y="325.35" width="4.7" height="4.7" fill="#1c375f" stroke="#0c1a30" stroke-width="0.8"/><rect x="451.85" y="324.65" width="4.7" height="4.7" fill="#1c375f" stroke="#0c1a30" stroke-width="0.8"/><rect x="448.85" y="329.45" width="4.7" height="4.7" fill="#1c375f" stroke="#0c1a30" stroke-width="0.8"/><rect x="473.55" y="375.45" width="4.7" height="4.7" fill="#1c375f" stroke="#0c1a30" stroke-width="0.8"/><rect x="398.75" y="411.15" width="4.7" height="4.7" fill="#1c375f" stroke="#0c1a30" stroke-width="0.8"/><polygon points="427.40,333.65 424.98,338.24 429.82,338.24" fill="#6e1a33" stroke="#3d0b1c" stroke-width="0.7"/><polygon points="424.60,338.95 422.18,343.54 427.02,343.54" fill="#6e1a33" stroke="#3d0b1c" stroke-width="0.7"/><polygon points="430.80,377.55 428.38,382.14 433.22,382.14" fill="#6e1a33" stroke="#3d0b1c" stroke-width="0.7"/><polygon points="414.70,388.65 412.28,393.24 417.12,393.24" fill="#6e1a33" stroke="#3d0b1c" stroke-width="0.7"/><polygon points="399.20,401.65 396.78,406.24 401.62,406.24" fill="#6e1a33" stroke="#3d0b1c" stroke-width="0.7"/><polygon points="408.00,398.65 405.58,403.24 410.42,403.24" fill="#6e1a33" stroke="#3d0b1c" stroke-width="0.7"/><polygon points="396.50,407.45 394.08,412.04 398.92,412.04" fill="#6e1a33" stroke="#3d0b1c" stroke-width="0.7"/><polygon points="397.40,414.35 394.98,418.94 399.82,418.94" fill="#6e1a33" stroke="#3d0b1c" stroke-width="0.7"/><polygon points="433.40,438.65 430.98,443.24 435.82,443.24" fill="#6e1a33" stroke="#3d0b1c" stroke-width="0.7"/><polygon points="413.50,443.25 411.08,447.84 415.92,447.84" fill="#6e1a33" stroke="#3d0b1c" stroke-width="0.7"/><polygon points="425.80,449.45 423.38,454.04 428.22,454.04" fill="#6e1a33" stroke="#3d0b1c" stroke-width="0.7"/><polygon points="453.50,459.35 451.08,463.94 455.92,463.94" fill="#6e1a33" stroke="#3d0b1c" stroke-width="0.7"/><polygon points="439.40,484.15 436.98,488.74 441.82,488.74" fill="#6e1a33" stroke="#3d0b1c" stroke-width="0.7"/><polygon points="309.40,543.20 307.02,547.70 311.77,547.70" fill="#6e1a33" stroke="#3d0b1c" stroke-width="0.7"/><text x="316.4" y="549.6" font-size="10.8" text-anchor="start" fill="#a32049" >TN</text><circle cx="423.10" cy="545.90" r="2.1" fill="#3fa3c8" stroke="#122a40" stroke-width="1.15"/><text x="429.8" y="549.6" font-size="10.8" text-anchor="start" fill="#3e6896" >IBRUTINIB</text><polygon points="309.80,560.00 312.50,562.70 309.80,565.40 307.10,562.70" fill="#4f903c" stroke="#163312" stroke-width="1.05"/><text x="316.4" y="566.4000000000001" font-size="10.8" text-anchor="start" fill="#5db34c" >ACALABRUTINIB</text><rect x="420.80" y="560.40" width="4.6" height="4.6" fill="#1c375f" stroke="#0c1a30" stroke-width="0.8"/><text x="429.8" y="566.4000000000001" font-size="10.8" text-anchor="start" fill="#1e3a62" textLength="56.6" lengthAdjust="spacingAndGlyphs">RESISTANT</text>
<rect x="0.5" y="0.5" width="519" height="578" fill="none" stroke="#2a2a2a" stroke-width="1"/>
</svg>
</body></html>
